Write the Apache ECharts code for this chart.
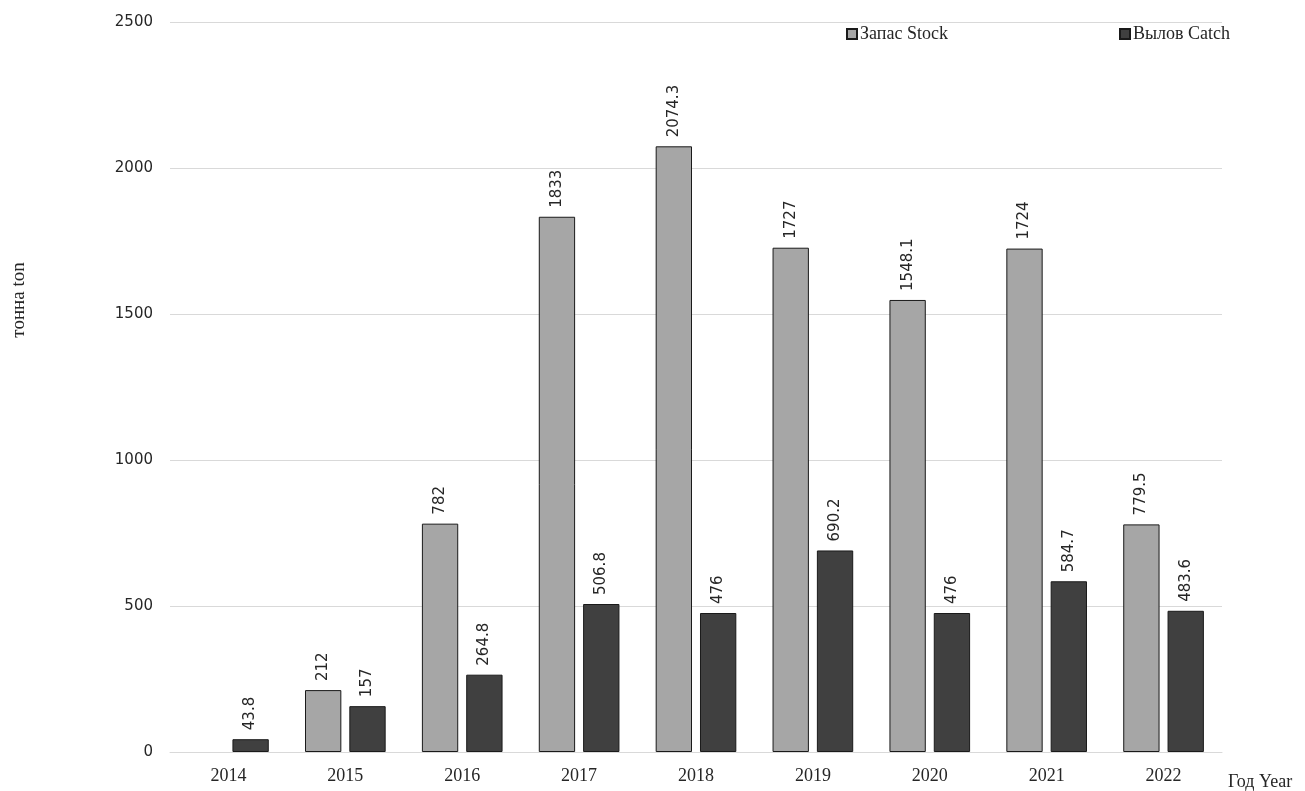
<!DOCTYPE html>
<html>
<head>
<meta charset="utf-8">
<script src="https://cdn.jsdelivr.net/npm/echarts@6/dist/echarts.min.js"></script>
<style>
html,body{margin:0;padding:0;background:#fff;}
#chart{width:1305px;height:791px;}
</style>
</head>
<body>
<div id="chart"></div>
<script>
var years = ['2014','2015','2016','2017','2018','2019','2020','2021','2022'];
var stock = [null, 212, 782, 1833, 2074.3, 1727, 1548.1, 1724, 779.5];
var catchV = [43.8, 157, 264.8, 506.8, 476, 690.2, 476, 584.7, 483.6];
var yTicks = [0, 500, 1000, 1500, 2000, 2500];

var chart = echarts.init(document.getElementById('chart'));
var serif = 'Liberation Serif';
var sans = 'DejaVu Sans';
var labelCfg = {
  show: true, position: 'top', rotate: 90, distance: 9,
  align: 'left', verticalAlign: 'middle',
  fontFamily: sans, fontSize: 15, color: '#262626'
};
chart.setOption({
  animation: false,
  backgroundColor: '#fff',
  grid: {left: 170, right: 83, top: 22, bottom: 39, containLabel: false},
  legend: [{
    left: 841, top: 20, itemWidth: 10, itemHeight: 10, itemGap: 4, icon: 'rect',
    data: ['Запас Stock'],
    textStyle: {fontFamily: serif, fontSize: 18, color: '#262626', padding: [0,0,0,-2]}
  },{
    left: 1114, top: 20, itemWidth: 10, itemHeight: 10, icon: 'rect',
    data: ['Вылов Catch'],
    textStyle: {fontFamily: serif, fontSize: 18, color: '#262626', padding: [0,0,0,-2]}
  }],
  xAxis: {
    type: 'category', data: years,
    axisLine: {lineStyle: {color: '#d9d9d9', width: 1}},
    axisTick: {show: false},
    axisLabel: {fontFamily: serif, fontSize: 18, color: '#262626', margin: 15}
  },
  yAxis: {
    type: 'value', min: yTicks[0], max: yTicks[yTicks.length-1], interval: 500,
    axisLine: {show: false}, axisTick: {show: false},
    axisLabel: {fontFamily: sans, fontSize: 15, color: '#262626', margin: 17,
      formatter: function(v){ return String(v); }},
    splitLine: {lineStyle: {color: '#d9d9d9', width: 1}}
  },
  graphic: [{
    type: 'text', left: 1228, top: 773,
    style: {text: 'Год Year', fontFamily: serif, fontSize: 18, fill: '#262626'}
  },{
    type: 'text', x: 19, y: 300, rotation: Math.PI/2,
    style: {text: 'тонна ton', fontFamily: serif, fontSize: 19, fill: '#262626',
      align: 'center', verticalAlign: 'middle'}
  }],
  series: [{
    name: 'Запас Stock', type: 'bar', data: stock,
    barGap: '22%', barCategoryGap: '31%',
    itemStyle: {color: '#a6a6a6', borderColor: '#1a1a1a', borderWidth: 1},
    label: labelCfg
  },{
    name: 'Вылов Catch', type: 'bar', data: catchV,
    itemStyle: {color: '#404040', borderColor: '#1a1a1a', borderWidth: 1},
    label: labelCfg
  }]
});
</script>
</body>
</html>
